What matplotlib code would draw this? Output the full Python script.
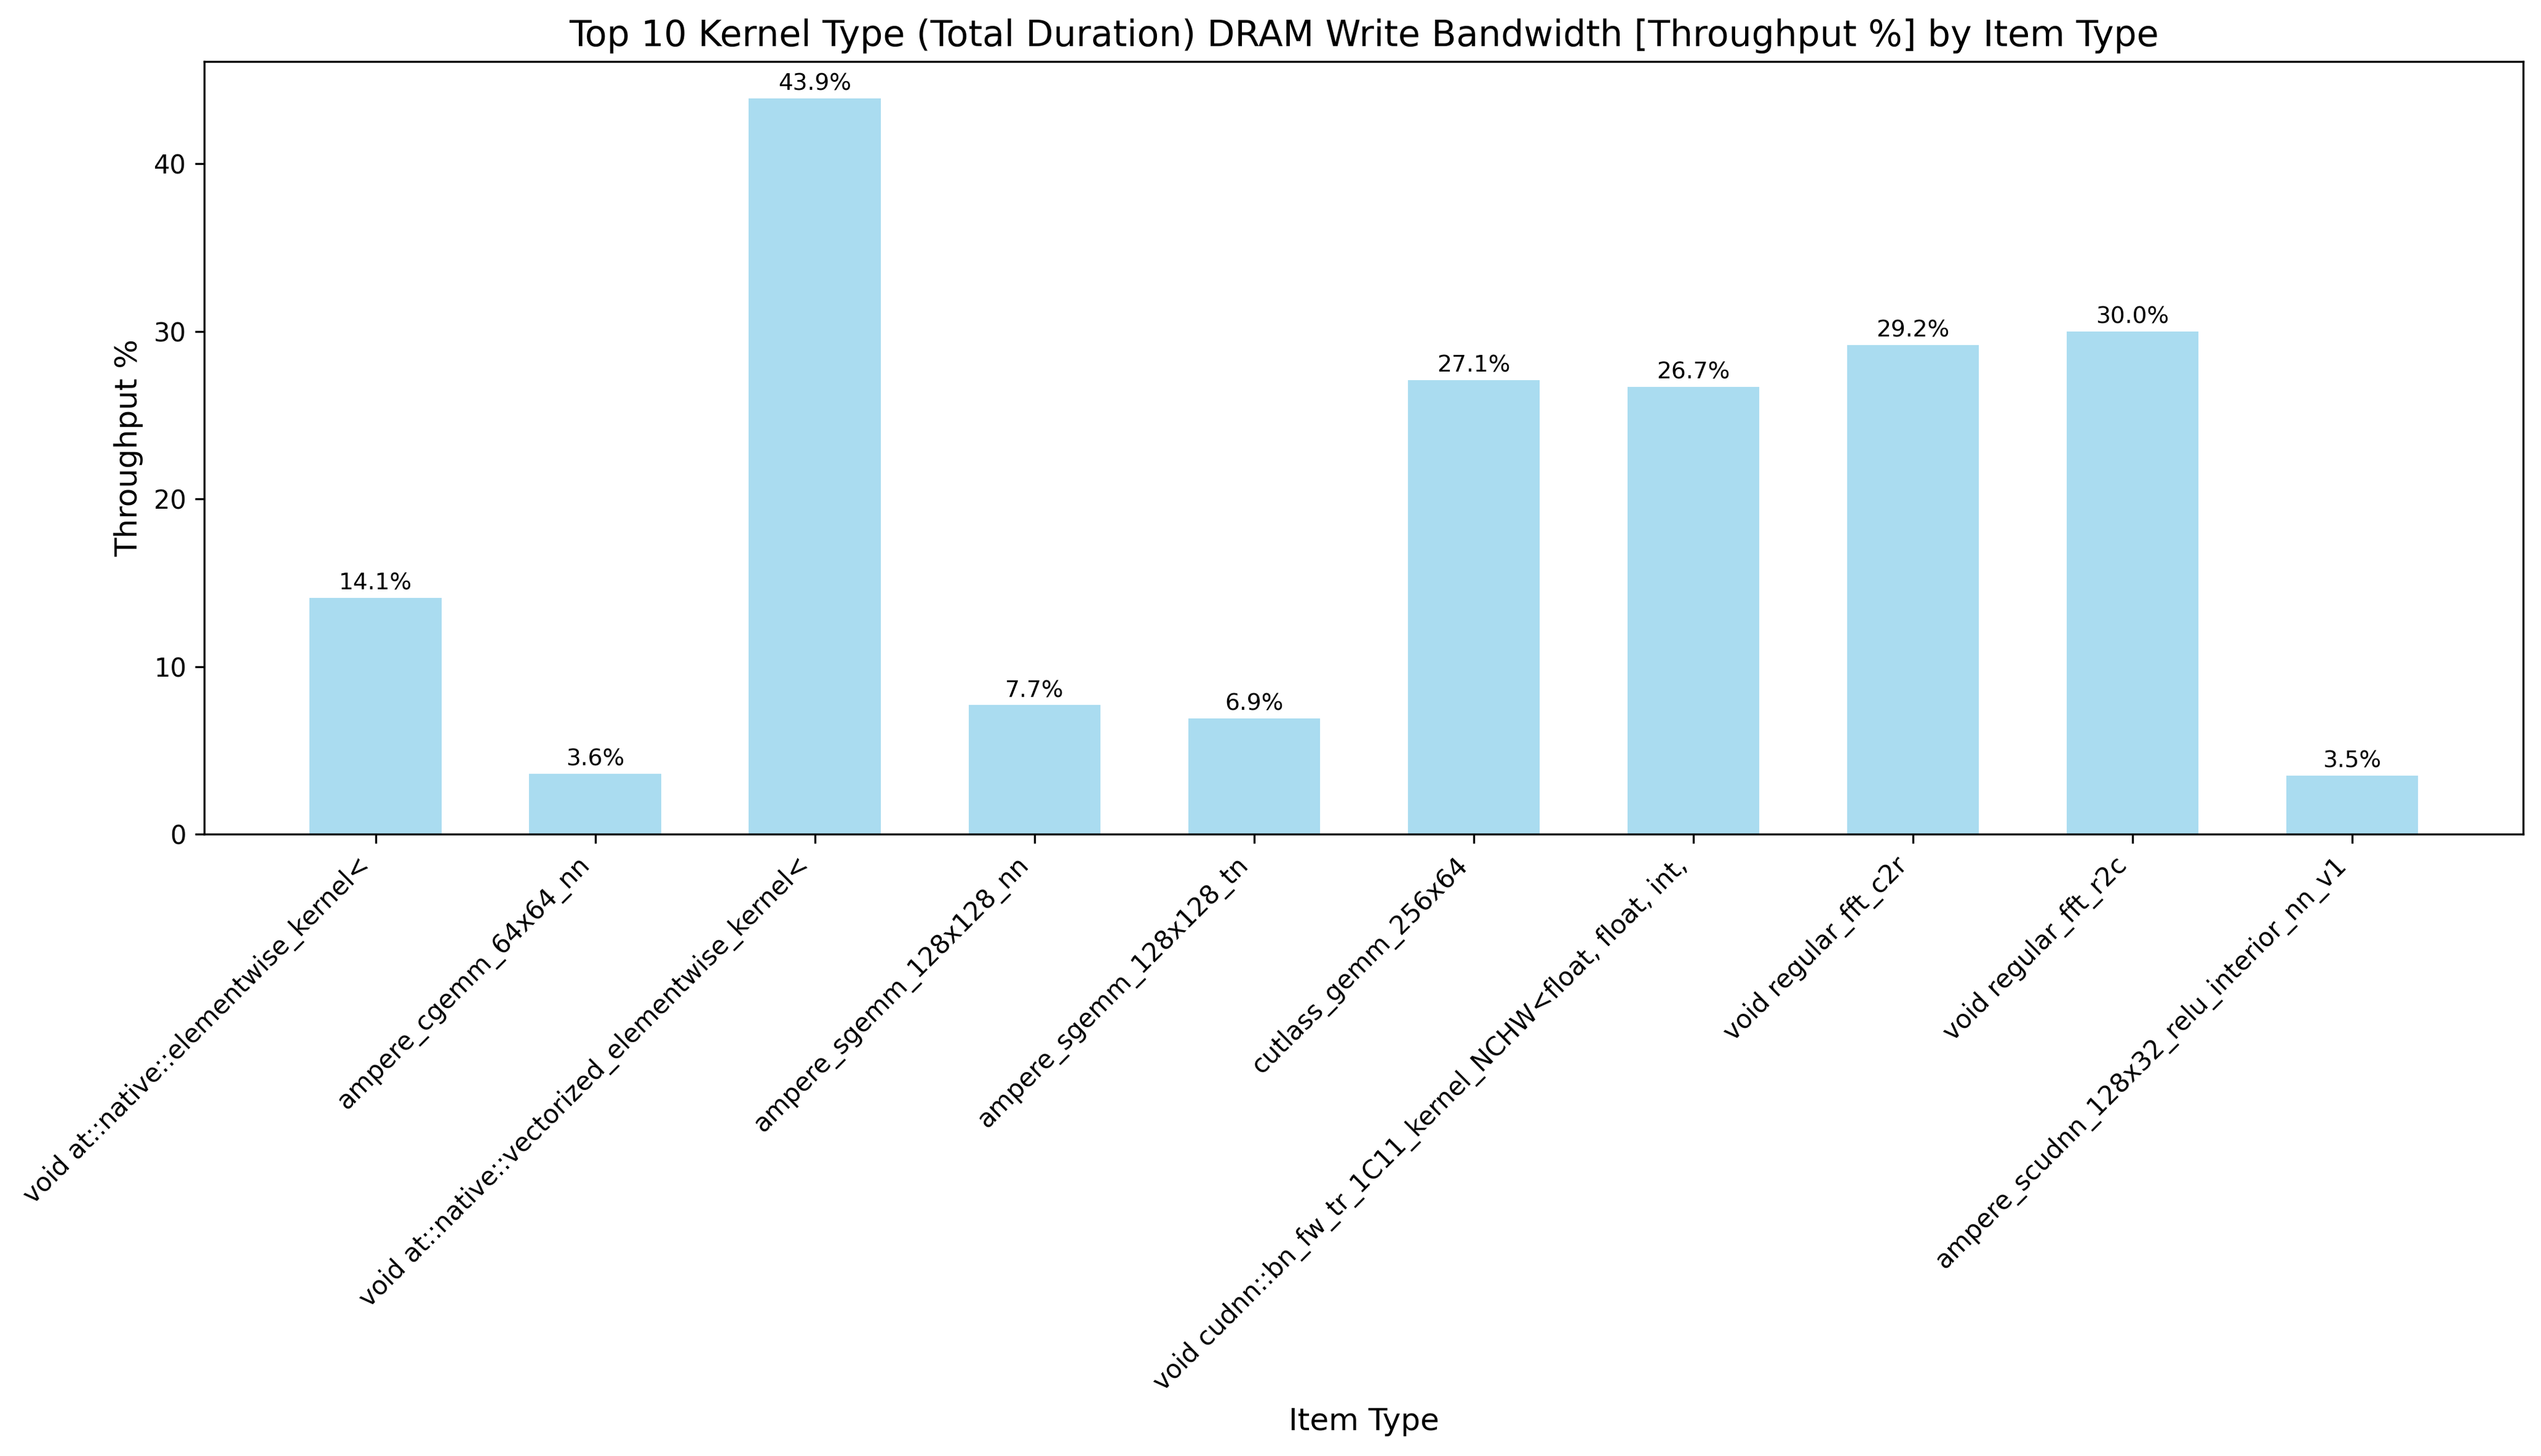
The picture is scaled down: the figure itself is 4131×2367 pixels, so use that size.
import matplotlib
matplotlib.use('Agg')
import matplotlib.pyplot as plt

kernels = [
    'void at::native::elementwise_kernel<',
    'ampere_cgemm_64x64_nn',
    'void at::native::vectorized_elementwise_kernel<',
    'ampere_sgemm_128x128_nn',
    'ampere_sgemm_128x128_tn',
    'cutlass_gemm_256x64',
    'void cudnn::bn_fw_tr_1C11_kernel_NCHW<float, float, int,',
    'void regular_fft_c2r',
    'void regular_fft_r2c',
    'ampere_scudnn_128x32_relu_interior_nn_v1',
]
throughput = [14.1, 3.6, 43.9, 7.7, 6.9, 27.1, 26.7, 29.2, 30.0, 3.5]

fig, ax = plt.subplots(figsize=(4131/300, 2367/300), dpi=300)
bars = ax.bar(range(len(kernels)), throughput, width=0.6, color='skyblue', alpha=0.7)
for b, v in zip(bars, throughput):
    ax.text(b.get_x() + b.get_width()/2, v + 0.2, f'{v:.1f}%', ha='center', va='bottom', fontsize=9)

ax.set_xticks(range(len(kernels)))
ax.set_xticklabels(kernels, rotation=45, ha='right', fontsize=10)
ax.set_xlabel('Item Type', fontsize=12)
ax.set_ylabel('Throughput %', fontsize=12)
ax.set_title('Top 10 Kernel Type (Total Duration) DRAM Write Bandwidth [Throughput %] by Item Type', fontsize=14)
plt.subplots_adjust(left=0.0804, right=0.993, top=0.9577, bottom=0.427)
plt.savefig('out.png', dpi=300)
